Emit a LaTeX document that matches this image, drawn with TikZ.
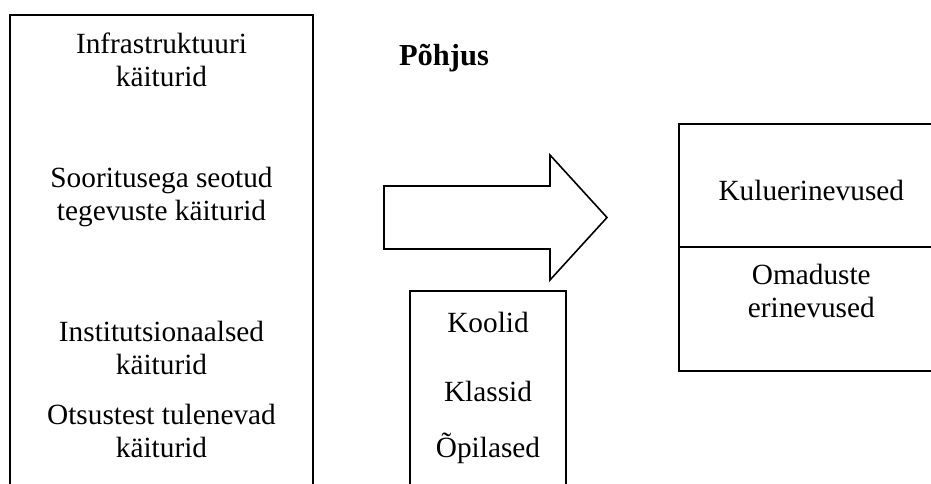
\documentclass[tikz,border=0pt]{standalone}
\usepackage{fontspec}
\setmainfont{Liberation Serif}
\begin{document}
\begin{tikzpicture}[x=1bp, y=-1bp,
    frame/.style={draw=black, line width=1.6bp},
    label/.style={align=center, inner sep=0pt,
      font=\fontsize{29.3bp}{33bp}\selectfont}]
  \useasboundingbox (0,0) rectangle (931,484);

  % left column of drivers, running past the lower edge
  \coordinate (lbl) at (10,495);
  \coordinate (ltr) at (313,15);
  \draw[frame] (lbl) |- (ltr) -- (ltr |- lbl);
  \node[label] (infra) at (161.5,60) {Infrastruktuuri\\käiturid};
  \node[label] (perf)  at (161.5,197) {Sooritusega seotud\\tegevuste käiturid};
  \node[label] (inst)  at (161.5,348) {Institutsionaalsed\\käiturid};
  \node[label] (dec)   at (161.5,431) {Otsustest tulenevad\\käiturid};

  % heading
  \node[label, font=\fontsize{30.5bp}{34bp}\selectfont\bfseries] (cause) at (444,58) {Põhjus};

  % block arrow
  \draw[frame, line join=miter] (384,186) -- (550,186) -- (550,155) -- (607,217.5)
    -- (550,280) -- (550,249) -- (384,249) -- cycle;

  % levels box
  \coordinate (stl) at (410,291);
  \coordinate (sbr) at (566,495);
  \draw[frame] (stl |- sbr) |- (sbr |- stl) -- (sbr);
  \node[label] (schools)  at (488,322) {Koolid};
  \node[label] (classes)  at (488,391) {Klassid};
  \node[label] (students) at (488,448) {Õpilased};

  % outcome box with two parts, running past the right edge
  \node[frame, minimum width=265bp, minimum height=247bp, anchor=north west,
        inner sep=0pt] (result) at (678,123) {};
  \draw[frame] (result.west |- 0,247) -- (result.east |- 0,247);
  \node[label] (cost) at (result.center |- 0,190) {Kuluerinevused};
  \node[label] (prop) at (result.center |- 0,291) {Omaduste\\erinevused};
\end{tikzpicture}
\end{document}
